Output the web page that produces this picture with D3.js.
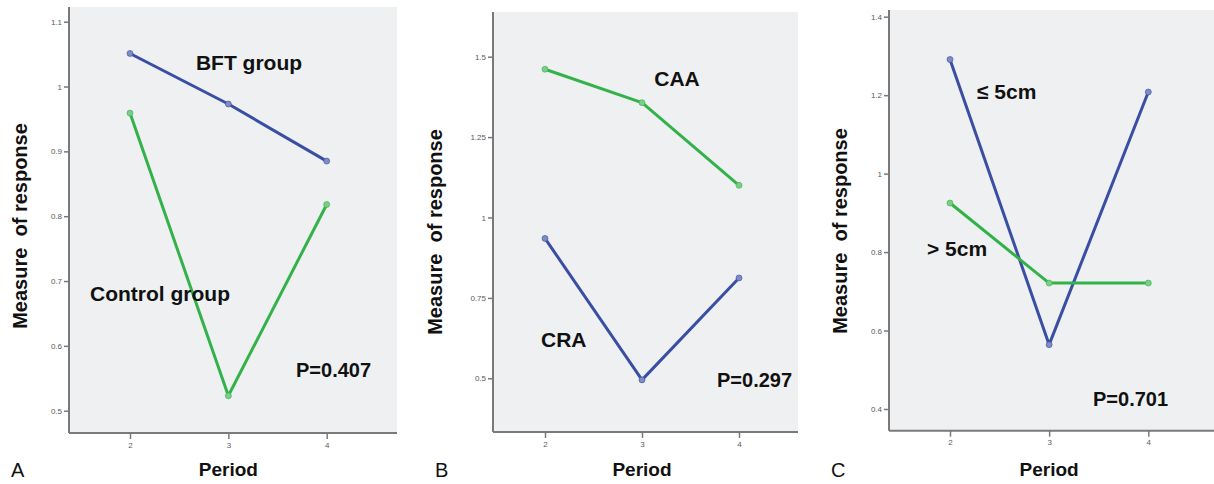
<!DOCTYPE html>
<html lang="en">
<head>
<meta charset="UTF-8">
<title>Measure of response by period</title>
<script src="https://d3js.org/d3.v7.min.js"></script>
<style>
  body { margin: 0; background: #fff; font-family: "Liberation Sans", Arial, sans-serif; }
  .tick-label { font-size: 8px; fill: #5a5a5a; }
  .axis-title { font-size: 20px; font-weight: bold; fill: #111; white-space: pre; }
  .series-label { font-size: 21px; font-weight: bold; fill: #111; }
  .p-label { font-size: 20px; font-weight: bold; fill: #111; }
  .panel-letter { font-size: 20px; fill: #111; }
  .line { fill: none; stroke-width: 3; stroke-linejoin: round; stroke-linecap: round; }
</style>
</head>
<body>
<div id="chart"></div>
<script>
// data
const periods = [2, 3, 4];

const bftGroup = [1.051, 0.973, 0.885];
const controlGroup = [0.959, 0.523, 0.818];

const caa = [1.461, 1.357, 1.100];
const cra = [0.935, 0.495, 0.812];

const le5cm = [1.291, 0.564, 1.208];
const gt5cm = [0.925, 0.721, 0.721];

const ticksA = [0.5, 0.6, 0.7, 0.8, 0.9, 1, 1.1];
const ticksB = [0.5, 0.75, 1, 1.25, 1.5];
const ticksC = [0.4, 0.6, 0.8, 1, 1.2, 1.4];

const pValues = ["P=0.407", "P=0.297", "P=0.701"];

const blue = "#3a4ea3";
const green = "#34b24a";

const W = 1214, H = 484;
const svg = d3.select("#chart").append("svg")
  .attr("width", W).attr("height", H);

// panel layout (pixels)
const panels = [
  {
    letter: "A", ticks: ticksA, p: pValues[0],
    left: 69, right: 397, top: 7, bottom: 433,
    xr: [130, 326.7], yd: [0.5, 1.1], yr: [410.7, 21.7],
    titleX: 20, titleY: 226,
    series: [
      { values: bftGroup, color: blue, label: "BFT group", lx: 249, ly: 70, anchor: "middle" },
      { values: controlGroup, color: green, label: "Control group", lx: 90, ly: 301, anchor: "start" }
    ],
    px: 296, py: 377
  },
  {
    letter: "B", ticks: ticksB, p: pValues[1],
    left: 493, right: 798, top: 12, bottom: 432,
    xr: [545, 739], yd: [0.5, 1.5], yr: [378.3, 56.7],
    titleX: 435, titleY: 232,
    series: [
      { values: caa, color: green, label: "CAA", lx: 677, ly: 86, anchor: "middle" },
      { values: cra, color: blue, label: "CRA", lx: 541, ly: 347, anchor: "start" }
    ],
    px: 717, py: 387
  },
  {
    letter: "C", ticks: ticksC, p: pValues[2],
    left: 889, right: 1214, top: 10, bottom: 430.7,
    xr: [950, 1148.3], yd: [0.4, 1.4], yr: [409, 16.7],
    titleX: 840, titleY: 231,
    series: [
      { values: le5cm, color: blue, label: "\u2264 5cm", lx: 977, ly: 99, anchor: "start" },
      { values: gt5cm, color: green, label: "> 5cm", lx: 927, ly: 256, anchor: "start" }
    ],
    px: 1093, py: 406
  }
];

panels.forEach(pn => {
  const g = svg.append("g");
  const x = d3.scaleLinear().domain([2, 4]).range(pn.xr);
  const y = d3.scaleLinear().domain(pn.yd).range(pn.yr);

  // plot background
  g.append("rect")
    .attr("x", pn.left).attr("y", pn.top)
    .attr("width", pn.right - pn.left).attr("height", pn.bottom - pn.top)
    .attr("fill", "#eef0f2");

  // y axis
  const yAxis = g.append("g")
    .attr("transform", `translate(${pn.left},0)`)
    .call(d3.axisLeft(y).tickValues(pn.ticks).tickSize(5).tickPadding(2)
      .tickFormat(d => String(+d.toFixed(2))));
  yAxis.select(".domain").attr("d", `M0,${pn.top}V${pn.bottom}`);

  // x axis
  const xAxis = g.append("g")
    .attr("transform", `translate(0,${pn.bottom})`)
    .call(d3.axisBottom(x).tickValues(periods).tickSize(6).tickPadding(3).tickFormat(d3.format("d")));
  xAxis.select(".domain").attr("d", `M${pn.left},0H${pn.right}`);

  [yAxis, xAxis].forEach(ax => {
    ax.select(".domain").attr("stroke", "#7a7a7a").attr("stroke-width", 2);
    ax.selectAll(".tick line").attr("stroke", "#7a7a7a").attr("stroke-width", 1.5);
    ax.selectAll(".tick text").attr("class", "tick-label")
      .attr("font-family", null).attr("font-size", null).attr("fill", null);
  });

  // lines and markers
  const line = d3.line().x((d, i) => x(periods[i])).y(d => y(d));
  pn.series.forEach(s => {
    g.append("path")
      .datum(s.values)
      .attr("class", "line")
      .attr("stroke", s.color)
      .attr("d", line);
    g.selectAll(null)
      .data(s.values)
      .enter().append("circle")
      .attr("cx", (d, i) => x(periods[i]))
      .attr("cy", d => y(d))
      .attr("r", 3)
      .attr("fill", d3.interpolateRgb(s.color, "#ffffff")(0.35))
      .attr("stroke", s.color)
      .attr("stroke-opacity", 0.6)
      .attr("stroke-width", 1);
    g.append("text")
      .attr("class", "series-label")
      .attr("x", s.lx).attr("y", s.ly)
      .attr("text-anchor", s.anchor)
      .text(s.label);
  });

  g.append("text")
    .attr("class", "p-label")
    .attr("x", pn.px).attr("y", pn.py)
    .text(pn.p);

  // axis titles
  g.append("text")
    .attr("class", "axis-title")
    .attr("transform", `translate(${pn.titleX + 7},${pn.titleY}) rotate(-90)`)
    .attr("text-anchor", "middle")
    .text("Measure  of response");

  g.append("text")
    .attr("class", "axis-title")
    .attr("x", (pn.xr[0] + pn.xr[1]) / 2)
    .attr("y", 476)
    .attr("text-anchor", "middle")
    .style("font-size", "19px")
    .text("Period");

  g.append("text")
    .attr("class", "panel-letter")
    .attr("x", pn.left - 58)
    .attr("y", 477)
    .text(pn.letter);
});
</script>
</body>
</html>
